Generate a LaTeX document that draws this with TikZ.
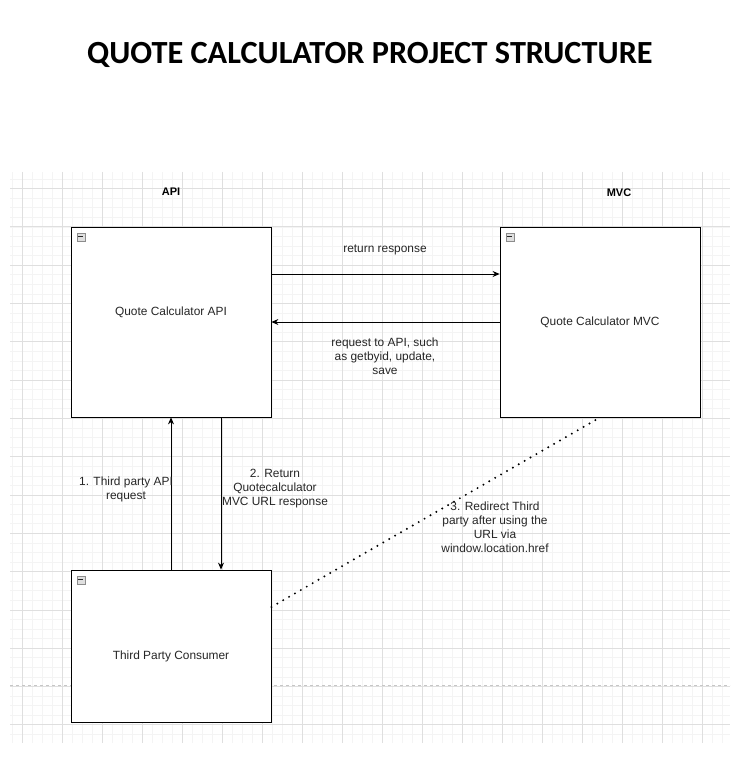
\documentclass[tikz,border=0pt]{standalone}
\usepackage{fontspec}
\setmainfont{Liberation Sans}
\newfontfamily\titlefont{Carlito}
\usetikzlibrary{arrows.meta, positioning}
\tikzset{>={Stealth[length=7pt,width=6pt]}, % filled arrow heads like draw.io
box/.style={draw, line width=0.8pt, minimum width=200pt, inner sep=0pt, fill=white},
lbl/.style={align=center, inner sep=0pt, font=\fontsize{11.9}{14}\selectfont, text=black!85},
head/.style={font=\fontsize{11}{13}\selectfont\bfseries},
minusbox/.style={draw=gray!90, fill=gray!25, minimum size=8pt, inner sep=0pt, anchor=north west,
  path picture={\draw[black!85, line width=0.8pt] ([xshift=1.5pt]path picture bounding box.west) -- ([xshift=-1.5pt]path picture bounding box.east);}},
minorgrid/.style={draw=gray!9, line width=0.5pt},
majorgrid/.style={draw=gray!25, line width=0.6pt},
link/.style={->, line width=0.8pt},
redirect/.style={line width=2.2pt, dash pattern=on 0pt off 6.8pt, line cap=round},
}
\begin{document}
\begin{tikzpicture}[x=1pt, y=-1pt]
  \useasboundingbox (0,0) rectangle (742,775);

  % grid of the drawing page
  \foreach \j in {-1,...,57}
    \draw[minorgrid] (10,188.5+9.575*\j) -- (730,188.5+9.575*\j);
  \foreach \x in {12,22,...,722}
    \draw[minorgrid] (\x,172) -- (\x,743);
  \foreach \k in {0,...,14}
    \draw[majorgrid] (10,188.5+38.3*\k) -- (730,188.5+38.3*\k);
  \foreach \x in {22,62,...,702}
    \draw[majorgrid] (\x,172) -- (\x,743);
  \draw[gray!45, dashed, line width=0.6pt] (10,685) -- (730,685);

  \node (title) at (370,55) {\titlefont\fontsize{32.3}{36}\selectfont\bfseries QUOTE CALCULATOR PROJECT STRUCTURE};
  \node[head] (apihead) at (171,192) {API};
  \node[head] (mvchead) at (619,193) {MVC};

  \node[box, minimum height=190pt] (api) at (171,322) {};
  \node[box, minimum height=190pt] (mvc) at (600,322) {};
  \node[box, minimum height=152pt] (tp) at (171,646) {};

  \node[lbl] (apitext) at ([yshift=10pt]api.center) {Quote Calculator API};
  \node[lbl] (mvctext) at (mvc.center) {Quote Calculator MVC};
  \node[lbl] (tptext) at ([yshift=-10pt]tp.center) {Third Party Consumer};

  \node[minusbox] (apiicon) at ([shift={(6pt,-6pt)}]api.north west) {};
  \node[minusbox] (mvcicon) at ([shift={(6pt,-6pt)}]mvc.north west) {};
  \node[minusbox] (tpicon) at ([shift={(6pt,-6pt)}]tp.north west) {};

  \draw[link] ([yshift=48pt]api.east) -- ([yshift=48pt]mvc.west);
  \draw[link] (mvc.west) -- (api.east);
  \draw[link] (tp.north) -- (api.south);
  \draw[link] ([xshift=50pt]api.south) -- ([xshift=50pt]tp.north);
  \draw[redirect] ([yshift=39pt]tp.east) -- (mvc.south);

  \node[lbl] (retlbl) at (385,250) {return response};
  \node[lbl] (reqlbl) at (385,356) {request to API, such\\as getbyid, update,\\save};
  \node[lbl] (onelbl) at (126,489) {1. Third party API\\request};
  \node[lbl] (twolbl) at (275,489) {2. Return\\Quotecalculator\\MVC URL response};
  \node[lbl] (threelbl) at (495,527) {3. Redirect Third\\party after using the\\URL via\\window.location.href};
\end{tikzpicture}
\end{document}
